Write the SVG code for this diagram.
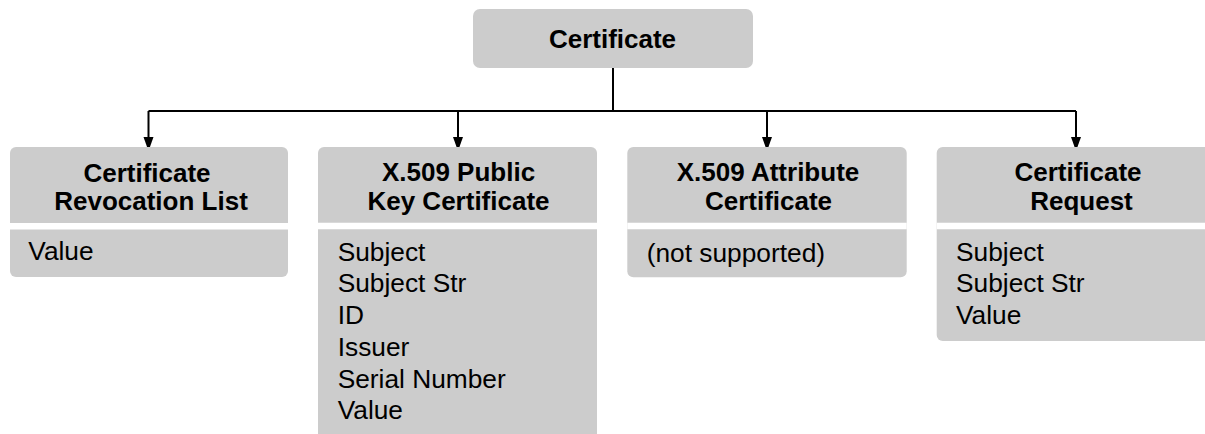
<svg xmlns="http://www.w3.org/2000/svg" width="1205" height="434" viewBox="0 0 1205 434">
<style>
.box{fill:#cccccc;}
.sep{stroke:#ffffff;stroke-width:6.5;}
.h{font-family:"Liberation Sans",Arial,sans-serif;font-weight:bold;font-size:26px;fill:#000;text-anchor:middle;}
.t{font-family:"Liberation Sans",Arial,sans-serif;font-size:26.3px;fill:#000;}
.c{fill:none;stroke:#000;stroke-width:2;}
.a{fill:#000;}
</style>
<rect width="1205" height="434" fill="#ffffff"/>
<g id="connectors">
<path class="c" d="M613,68 V111"/>
<path class="c" d="M148.5,111 H1076"/>
<path class="c" d="M148.5,111 V139"/>
<path class="c" d="M458,111 V139"/>
<path class="c" d="M767,111 V139"/>
<path class="c" d="M1076,111 V139"/>
<path class="a" d="M143.5,137 L153.5,137 L148.5,151 Z"/>
<path class="a" d="M453,137 L463,137 L458,151 Z"/>
<path class="a" d="M762,137 L772,137 L767,151 Z"/>
<path class="a" d="M1071,137 L1081,137 L1076,151 Z"/>
</g>
<g id="certificate">
<rect class="box" x="473" y="9" width="280" height="59" rx="7"/>
<text class="h" x="612.5" y="48">Certificate</text>
</g>
<g id="crl">
<rect class="box" x="10" y="147" width="278" height="130" rx="6"/>
<line class="sep" x1="10" y1="226.3" x2="288" y2="226.3"/>
<text class="h" x="147" y="181.5">Certificate</text>
<text class="h" x="151" y="210">Revocation List</text>
<text class="t" x="28.3" y="260">Value</text>
</g>
<g id="x509pkc">
<rect class="box" x="318" y="147" width="279" height="300" rx="6"/>
<line class="sep" x1="318" y1="226" x2="597" y2="226"/>
<text class="h" x="458.5" y="181">X.509 Public</text>
<text class="h" x="458.5" y="209.5">Key Certificate</text>
<text class="t" x="337.7" y="260.7">Subject</text>
<text class="t" x="337.7" y="292.4">Subject Str</text>
<text class="t" x="337.7" y="324.1">ID</text>
<text class="t" x="337.7" y="355.8">Issuer</text>
<text class="t" x="337.7" y="387.5">Serial Number</text>
<text class="t" x="337.7" y="419.2">Value</text>
</g>
<g id="x509ac">
<rect class="box" x="627.3" y="147" width="279.4" height="130.3" rx="6"/>
<line class="sep" x1="627.3" y1="226" x2="906.7" y2="226"/>
<text class="h" x="768" y="181">X.509 Attribute</text>
<text class="h" x="768.5" y="209.5">Certificate</text>
<text class="t" x="646.7" y="261.5">(not supported)</text>
</g>
<g id="request">
<rect class="box" x="936.7" y="147" width="279" height="194" rx="6"/>
<line class="sep" x1="936.7" y1="226" x2="1215.7" y2="226"/>
<text class="h" x="1078" y="181">Certificate</text>
<text class="h" x="1081.5" y="209.5">Request</text>
<text class="t" x="956" y="260.7">Subject</text>
<text class="t" x="956" y="292.4">Subject Str</text>
<text class="t" x="956" y="324.1">Value</text>
</g>
</svg>
